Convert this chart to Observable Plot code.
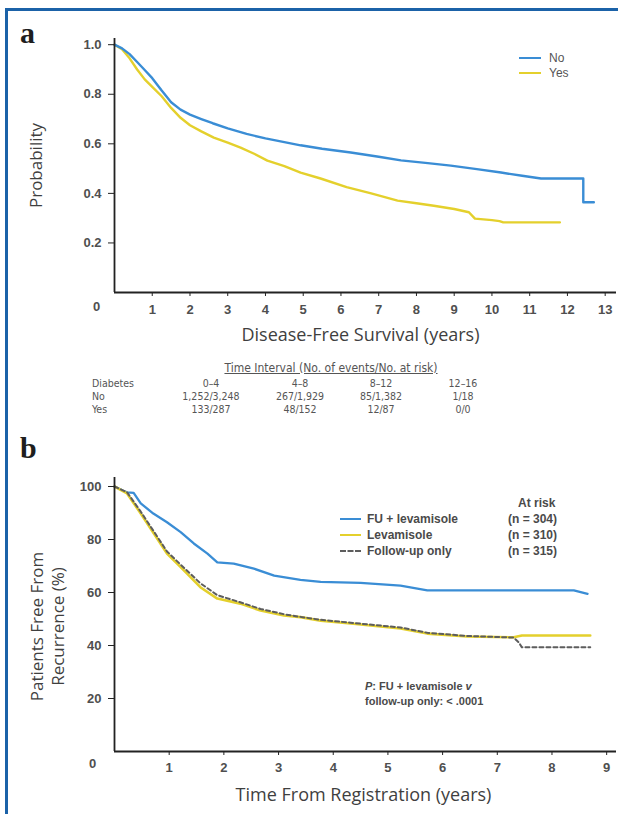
<!DOCTYPE html>
<html>
<head>
<meta charset="utf-8">
<script src="https://cdn.jsdelivr.net/npm/d3@7"></script>
<script src="https://cdn.jsdelivr.net/npm/@observablehq/plot@0.6"></script>
<style>
  html, body { margin: 0; padding: 0; background: #fff; }
  #page { position: relative; width: 618px; height: 814px; overflow: hidden; background: #fff;
          font-family: "Liberation Sans", Arial, sans-serif; color: #444; }
  .frameTop { position: absolute; left: 5px; top: 8px; width: 613px; height: 3px; background: #1b62a8; }
  .frameLeft { position: absolute; left: 5px; top: 8px; width: 3px; height: 806px; background: #1b62a8; }
  .letter { position: absolute; font-family: "Liberation Serif", "DejaVu Serif", serif; font-weight: bold;
            font-size: 30px; line-height: 30px; color: #1e1e1e; }
  .panel { position: absolute; left: 0; }
  .legend { position: absolute; font-size: 12px; color: #555; }
  .legrow { position: absolute; white-space: nowrap; line-height: 14px; height: 14px; }
  .swatch { position: absolute; top: 6px; height: 0; }
  .tbl { position: absolute; font-family: "Liberation Sans Narrow", "DejaVu Sans Condensed", "Liberation Sans", sans-serif;
         font-stretch: condensed; font-size: 10.5px; color: #555; white-space: nowrap; }
  .cell { position: absolute; width: 90px; margin-left: -45px; text-align: center; line-height: 13px; }
  .cellL { position: absolute; line-height: 13px; }
  .ttl { position: absolute; width: 320px; margin-left: -160px; text-align: center; text-decoration: underline;
         line-height: 13px; font-size: 12px; }
  .legB { position: absolute; font-weight: bold; font-size: 12px; color: #4a4a4a; white-space: nowrap; line-height: 14px; }
  .note { position: absolute; font-weight: bold; font-size: 11px; color: #4a4a4a; white-space: nowrap; line-height: 15px; }
</style>
</head>
<body>
<div id="page">
  <div class="frameTop"></div>
  <div class="frameLeft"></div>
  <div class="letter" style="left:20px; top:18px;">a</div>
  <div class="letter" style="left:20px; top:433px;">b</div>
  <div id="panelA" class="panel" style="top:0px;"></div>
  <div id="legendA"></div>
  <div id="tableA" class="tbl"></div>
  <div id="panelB" class="panel" style="top:440px;"></div>
  <div id="legendB"></div>
  <div id="noteB"></div>
</div>
<script>
// ---------- Panel a: Disease-free survival by diabetes ----------
const groupsA = ["No", "Yes"];
const dfsTimeNo = [0, 0.2, 0.4, 0.6, 0.8, 1.0, 1.25, 1.5, 1.75, 2.0, 2.3, 2.6, 3.0, 3.5, 4.0, 4.5, 4.93, 5.5, 6.26, 7.0, 7.59, 8.3, 8.91, 9.6, 10.24, 10.8, 11.3, 12.42, 12.42, 12.7];
const dfsProbNo = [1.0, 0.985, 0.962, 0.93, 0.898, 0.865, 0.815, 0.768, 0.738, 0.718, 0.70, 0.683, 0.662, 0.64, 0.622, 0.607, 0.594, 0.58, 0.565, 0.548, 0.533, 0.522, 0.512, 0.498, 0.484, 0.471, 0.46, 0.46, 0.364, 0.364];
const dfsTimeYes = [0, 0.2, 0.4, 0.6, 0.8, 1.0, 1.25, 1.5, 1.75, 2.0, 2.3, 2.63, 3.0, 3.34, 3.7, 4.05, 4.5, 4.93, 5.46, 6.15, 6.8, 7.5, 8.0, 8.46, 9.0, 9.39, 9.55, 10.0, 10.2, 10.3, 11.8];
const dfsProbYes = [1.0, 0.982, 0.945, 0.9, 0.86, 0.83, 0.792, 0.745, 0.705, 0.675, 0.65, 0.625, 0.605, 0.585, 0.56, 0.532, 0.51, 0.484, 0.46, 0.425, 0.40, 0.371, 0.36, 0.35, 0.337, 0.324, 0.298, 0.292, 0.288, 0.283, 0.283];
const xTicksA = [1, 2, 3, 4, 5, 6, 7, 8, 9, 10, 11, 12, 13];
const yTicksA = [0.2, 0.4, 0.6, 0.8, 1.0];
const xTitleA = "Disease-Free Survival (years)";
const yTitleA = "Probability";

// At-risk table under panel a
const tableTitle = "Time Interval (No. of events/No. at risk)";
const tableHeader = ["Diabetes", "0–4", "4–8", "8–12", "12–16"];
const tableNo = ["No", "1,252/3,248", "267/1,929", "85/1,382", "1/18"];
const tableYes = ["Yes", "133/287", "48/152", "12/87", "0/0"];

// ---------- Panel b: recurrence-free by treatment arm ----------
const armsB = ["FU + levamisole", "Levamisole", "Follow-up only"];
const atRiskB = ["(n = 304)", "(n = 310)", "(n = 315)"];
const rfsTimeFU = [0, 0.15, 0.23, 0.35, 0.48, 0.71, 0.96, 1.21, 1.45, 1.7, 1.88, 2.18, 2.55, 2.92, 3.4, 3.77, 4.5, 5.23, 5.72, 8.4, 8.65];
const rfsPctFU = [100, 98.5, 97.8, 97.6, 93.6, 89.8, 86.5, 82.8, 78.5, 74.7, 71.4, 70.9, 69, 66.4, 64.8, 64, 63.6, 62.6, 60.8, 60.8, 59.5];
const rfsTimeLev = [0, 0.23, 0.48, 0.72, 0.96, 1.21, 1.57, 1.88, 2.3, 2.67, 3.1, 3.4, 3.77, 4.32, 5.23, 5.72, 6.45, 7.3, 7.45, 8.7];
const rfsPctLev = [100, 97.4, 89.8, 82.3, 74.7, 69.6, 62, 57.7, 55.8, 53.2, 51.3, 50.7, 49.4, 48.3, 46.4, 44.5, 43.4, 43.1, 43.8, 43.8];
const rfsTimeObs = [0, 0.23, 0.48, 0.72, 0.96, 1.21, 1.57, 1.88, 2.3, 2.67, 3.1, 3.4, 3.77, 4.32, 5.23, 5.72, 6.45, 7.3, 7.4, 7.45, 8.7];
const rfsPctObs = [100, 97.8, 90.5, 83, 75.5, 70.5, 63.5, 59, 56.3, 53.8, 51.8, 50.8, 49.7, 48.6, 46.8, 44.8, 43.6, 43, 41, 39.3, 39.3];
const xTicksB = [1, 2, 3, 4, 5, 6, 7, 8, 9];
const yTicksB = [20, 40, 60, 80, 100];
const xTitleB = "Time From Registration (years)";
const yTitleB = "Patients Free From\nRecurrence (%)";
const noteLines = ["<i>P</i>: FU + levamisole <i>v</i>", "follow-up only: &lt; .0001"];

// ---------- styling ----------
const BLUE = "#3a8dd5";
const YELLOW = "#e4d02c";
const GRAY = "#5d5d5d";
const AXIS = "#222";
const TICKFILL = "#4f4f4f";
const TITLEFILL = "#3f3f3f";
const SANS = "Liberation Sans, Arial, sans-serif";
const TITLEFONT = "Open Sans, Noto Sans, sans-serif";

const dataA = [
  ...dfsTimeNo.map((t, i) => ({t, s: dfsProbNo[i], g: "No"})),
  ...dfsTimeYes.map((t, i) => ({t, s: dfsProbYes[i], g: "Yes"}))
];

const plotA = Plot.plot({
  width: 618, height: 355,
  marginLeft: 114, marginRight: 2, marginTop: 38, marginBottom: 63,
  x: {domain: [0, 13.3]},
  y: {domain: [0, 1.025]},
  color: {domain: groupsA, range: [BLUE, YELLOW]},
  style: {background: "transparent", fontFamily: SANS, overflow: "visible"},
  marks: [
    Plot.line(dataA.filter(d => d.g === "Yes"), {x: "t", y: "s", stroke: "g", strokeWidth: 2.4}),
    Plot.line(dataA.filter(d => d.g === "No"), {x: "t", y: "s", stroke: "g", strokeWidth: 2.4}),
    Plot.ruleX([0], {stroke: AXIS, strokeWidth: 1.8}),
    Plot.ruleY([0], {stroke: AXIS, strokeWidth: 1.8}),
    Plot.axisX({ticks: xTicksA, tickSize: 4, tickPadding: 8, tickFormat: d => String(d), label: null,
                stroke: AXIS, fill: TICKFILL, fontSize: 13, fontWeight: "bold"}),
    Plot.axisY({ticks: yTicksA, tickSize: 6, tickPadding: 7, tickFormat: d3.format(".1f"), label: null,
                stroke: AXIS, fill: TICKFILL, fontSize: 13, fontWeight: "bold"}),
    Plot.text(["0"], {frameAnchor: "bottom-left", dx: -18, dy: 18, text: d => d, textAnchor: "middle",
                      fill: TICKFILL, fontSize: 13, fontWeight: "bold"}),
    Plot.text([xTitleA], {frameAnchor: "bottom", dx: -5, dy: 48, text: d => d, fill: TITLEFILL,
                          fontSize: 18, fontFamily: TITLEFONT}),
    Plot.text([yTitleA], {frameAnchor: "left", dx: -78, text: d => d, rotate: -90, textAnchor: "middle",
                          fill: TITLEFILL, fontSize: 17, fontFamily: TITLEFONT})
  ]
});
document.getElementById("panelA").appendChild(plotA);

// legend a
(function () {
  const host = document.getElementById("legendA");
  const colors = [BLUE, YELLOW];
  groupsA.forEach((g, i) => {
    const row = document.createElement("div");
    row.className = "legrow legend";
    row.style.left = "519px";
    row.style.top = (51 + i * 15) + "px";
    row.style.position = "absolute";
    row.innerHTML = `<span class="swatch" style="left:0; width:22px; border-top:2.5px solid ${colors[i]};"></span>` +
                    `<span style="position:absolute; left:30px; top:0;">${g}</span>`;
    host.appendChild(row);
  });
})();

// table a
(function () {
  const host = document.getElementById("tableA");
  const colX = [92, 211, 300, 381, 463];
  const rowsY = [377, 390, 403];
  let html = `<div class="ttl" style="left:331px; top:362px;">${tableTitle}</div>`;
  [tableHeader, tableNo, tableYes].forEach((row, r) => {
    row.forEach((v, c) => {
      if (c === 0) html += `<div class="cellL" style="left:${colX[0]}px; top:${rowsY[r]}px;">${v}</div>`;
      else html += `<div class="cell" style="left:${colX[c]}px; top:${rowsY[r]}px;">${v}</div>`;
    });
  });
  host.innerHTML = html;
})();

// ---------- Panel b ----------
const dataB = [
  ...rfsTimeFU.map((t, i) => ({t, p: rfsPctFU[i], arm: armsB[0]})),
  ...rfsTimeLev.map((t, i) => ({t, p: rfsPctLev[i], arm: armsB[1]})),
  ...rfsTimeObs.map((t, i) => ({t, p: rfsPctObs[i], arm: armsB[2]}))
];

const plotB = Plot.plot({
  width: 618, height: 374,
  marginLeft: 114, marginRight: 2, marginTop: 37, marginBottom: 63,
  x: {domain: [0, 9.18]},
  y: {domain: [0, 103.4]},
  color: {domain: armsB, range: [BLUE, YELLOW, GRAY]},
  style: {background: "transparent", fontFamily: SANS, overflow: "visible"},
  marks: [
    Plot.line(dataB.filter(d => d.arm === armsB[0]), {x: "t", y: "p", stroke: "arm", strokeWidth: 2.3}),
    Plot.line(dataB.filter(d => d.arm === armsB[1]), {x: "t", y: "p", stroke: "arm", strokeWidth: 2.6}),
    Plot.line(dataB.filter(d => d.arm === armsB[2]), {x: "t", y: "p", stroke: "arm", strokeWidth: 2,
                                                      strokeDasharray: "4,3"}),
    Plot.ruleX([0], {stroke: AXIS, strokeWidth: 1.8}),
    Plot.ruleY([0], {stroke: AXIS, strokeWidth: 1.8}),
    Plot.axisX({ticks: xTicksB, tickSize: 4, tickPadding: 7, tickFormat: d => String(d), label: null,
                stroke: AXIS, fill: TICKFILL, fontSize: 13, fontWeight: "bold"}),
    Plot.axisY({ticks: yTicksB, tickSize: 6, tickPadding: 7, tickFormat: d => String(d), label: null,
                stroke: AXIS, fill: TICKFILL, fontSize: 13, fontWeight: "bold"}),
    Plot.text(["0"], {frameAnchor: "bottom-left", dx: -22, dy: 16, text: d => d, textAnchor: "middle",
                      fill: TICKFILL, fontSize: 13, fontWeight: "bold"}),
    Plot.text([xTitleB], {frameAnchor: "bottom", dx: -2, dy: 49, text: d => d, fill: TITLEFILL,
                          fontSize: 18, fontFamily: TITLEFONT}),
    Plot.text([yTitleB], {frameAnchor: "left", dx: -68, dy: 12, text: d => d, rotate: -90, textAnchor: "middle",
                          fill: TITLEFILL, fontSize: 17, lineHeight: 1.28, fontFamily: TITLEFONT})
  ]
});
document.getElementById("panelB").appendChild(plotB);

// legend b
(function () {
  const host = document.getElementById("legendB");
  const strokes = [`border-top:2.5px solid ${BLUE}`, `border-top:2.5px solid ${YELLOW}`, `border-top:2.2px dashed ${GRAY}`];
  let html = `<div class="legB" style="left:518px; top:496px;">At risk</div>`;
  armsB.forEach((a, i) => {
    const y = 512 + i * 16;
    html += `<div style="position:absolute; left:340px; top:${y + 6}px; width:21px; height:0; ${strokes[i]};"></div>`;
    html += `<div class="legB" style="left:367px; top:${y}px;">${a}</div>`;
    html += `<div class="legB" style="left:508px; top:${y}px;">${atRiskB[i]}</div>`;
  });
  host.innerHTML = html;
})();

// note b
(function () {
  const host = document.getElementById("noteB");
  host.innerHTML = noteLines.map((l, i) =>
    `<div class="note" style="left:365px; top:${679 + i * 15}px;">${l}</div>`).join("");
})();
</script>
</body>
</html>
